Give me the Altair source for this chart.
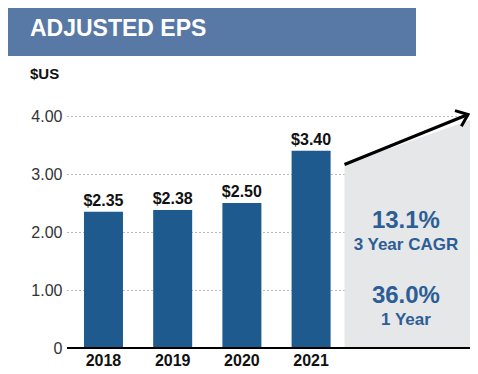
import altair as alt
import pandas as pd

years = ["2018", "2019", "2020", "2021"]
eps = [2.35, 2.38, 2.50, 3.40]
eps_labels = ["$2.35", "$2.38", "$2.50", "$3.40"]
y_ticks = [0, 1, 2, 3, 4]

# growth arrow and shaded projection wedge, in (year-index, value) units
arrow_x = [3.483, 5.267]
arrow_y = [3.164, 4.026]
wedge_x = [3.483, 5.296]
wedge_y = [3.164, 3.93]
stat_big = ["13.1%", "36.0%"]
stat_small = ["3 Year CAGR", "1 Year"]
stat_x = [4.37, 4.37]
stat_y = [2.19, 0.90]

FONT = "Liberation Sans"
BAR = "#1F5A8E"
BLUE_TXT = "#2C5E95"

bars_df = pd.DataFrame({"i": list(range(len(years))), "year": years, "eps": eps,
                        "lab": eps_labels, "zero": [0] * len(years)})
arrow_df = pd.DataFrame({"x": arrow_x, "y": arrow_y})
wedge_df = pd.DataFrame({"x": wedge_x, "y": wedge_y, "zero": [0, 0]})
head_df = pd.DataFrame({"x": [arrow_x[-1]], "y": [arrow_y[-1]]})
stat_df = pd.DataFrame({"big": stat_big, "small": stat_small, "y": stat_y, "x": stat_x})

xs = alt.Scale(domain=[-0.527, 5.296], nice=False, zero=False, padding=0)
ys = alt.Scale(domain=[0, 4], nice=False)
y_axis = alt.Axis(
    values=y_ticks, title=None, domain=False, ticks=False,
    labelExpr="datum.value == 0 ? '0' : format(datum.value, '.2f')",
    labelFont=FONT, labelFontSize=16, labelColor="#333333", labelPadding=5,
    grid=True, gridDash=[1, 3], gridColor="#777777", gridWidth=1)


def X(f):
    return alt.X(f, scale=xs, axis=None)


def Y(f):
    return alt.Y(f, scale=ys, axis=y_axis)


base = alt.Chart(bars_df)

bars = base.mark_bar(size=39, color=BAR).encode(x=X("i:Q"), y=Y("eps:Q"))

vals = base.mark_text(font=FONT, fontSize=16, fontWeight="bold", color="#111111",
                      baseline="alphabetic", dy=-6).encode(
    x=X("i:Q"), y=Y("eps:Q"), text="lab:N")

yrs = base.mark_text(font=FONT, fontSize=16, fontWeight="bold", color="#111111",
                     baseline="alphabetic", dy=17.5).encode(
    x=X("i:Q"), y=Y("zero:Q"), text="year:N")

wedge = alt.Chart(wedge_df).mark_area(color="#E6E7E9", clip=False).encode(
    x=X("x:Q"), y=Y("y:Q"), y2="zero:Q")

arrow = alt.Chart(arrow_df).mark_line(color="#000000", strokeWidth=3, clip=False).encode(
    x=X("x:Q"), y=Y("y:Q"))

head = alt.Chart(head_df).mark_point(
    shape="M -1 -0.8 L 0 0 L -1 0.8", filled=False, stroke="#000000",
    strokeWidth=3, size=450, angle=337.9, opacity=1, clip=False).encode(
    x=X("x:Q"), y=Y("y:Q"))

baseline_rule = base.mark_rule(color="#000000", strokeWidth=2).encode(
    x=alt.value(0), x2=alt.value(403), y=Y("zero:Q"))

big = alt.Chart(stat_df).mark_text(font=FONT, fontSize=24, fontWeight="bold", color=BLUE_TXT,
                                   baseline="middle").encode(
    x=X("x:Q"), y=Y("y:Q"), text="big:N")
small = alt.Chart(stat_df).mark_text(font=FONT, fontSize=17, fontWeight="bold", color=BLUE_TXT,
                                     baseline="middle", dy=24.5).encode(
    x=X("x:Q"), y=Y("y:Q"), text="small:N")

one = alt.Chart(pd.DataFrame({"t": ["ADJUSTED EPS"], "u": ["$US"]}))
banner = one.mark_rect(color="#5878A5").encode(
    x=alt.value(-59), x2=alt.value(349), y=alt.value(-108), y2=alt.value(-60))
banner_txt = one.mark_text(font=FONT, fontSize=23, fontWeight="bold", color="#FFFFFF",
                           align="left", baseline="middle").encode(
    x=alt.value(-37), y=alt.value(-87.5), text="t:N")
unit_txt = one.mark_text(font=FONT, fontSize=15, fontWeight="bold", color="#111111",
                         align="left", baseline="middle").encode(
    x=alt.value(-37), y=alt.value(-42.5), text="u:N")

chart = alt.layer(
    wedge, bars, vals, yrs, arrow, head, baseline_rule, big, small,
    banner, banner_txt, unit_txt
).properties(
    width=403, height=232,
    autosize=alt.AutoSizeParams(type="none"),
    padding={"left": 59, "top": 108, "right": 0, "bottom": 18},
).configure_view(stroke=None)

chart.save("out.html", embed_options={"renderer": "svg", "actions": False})
